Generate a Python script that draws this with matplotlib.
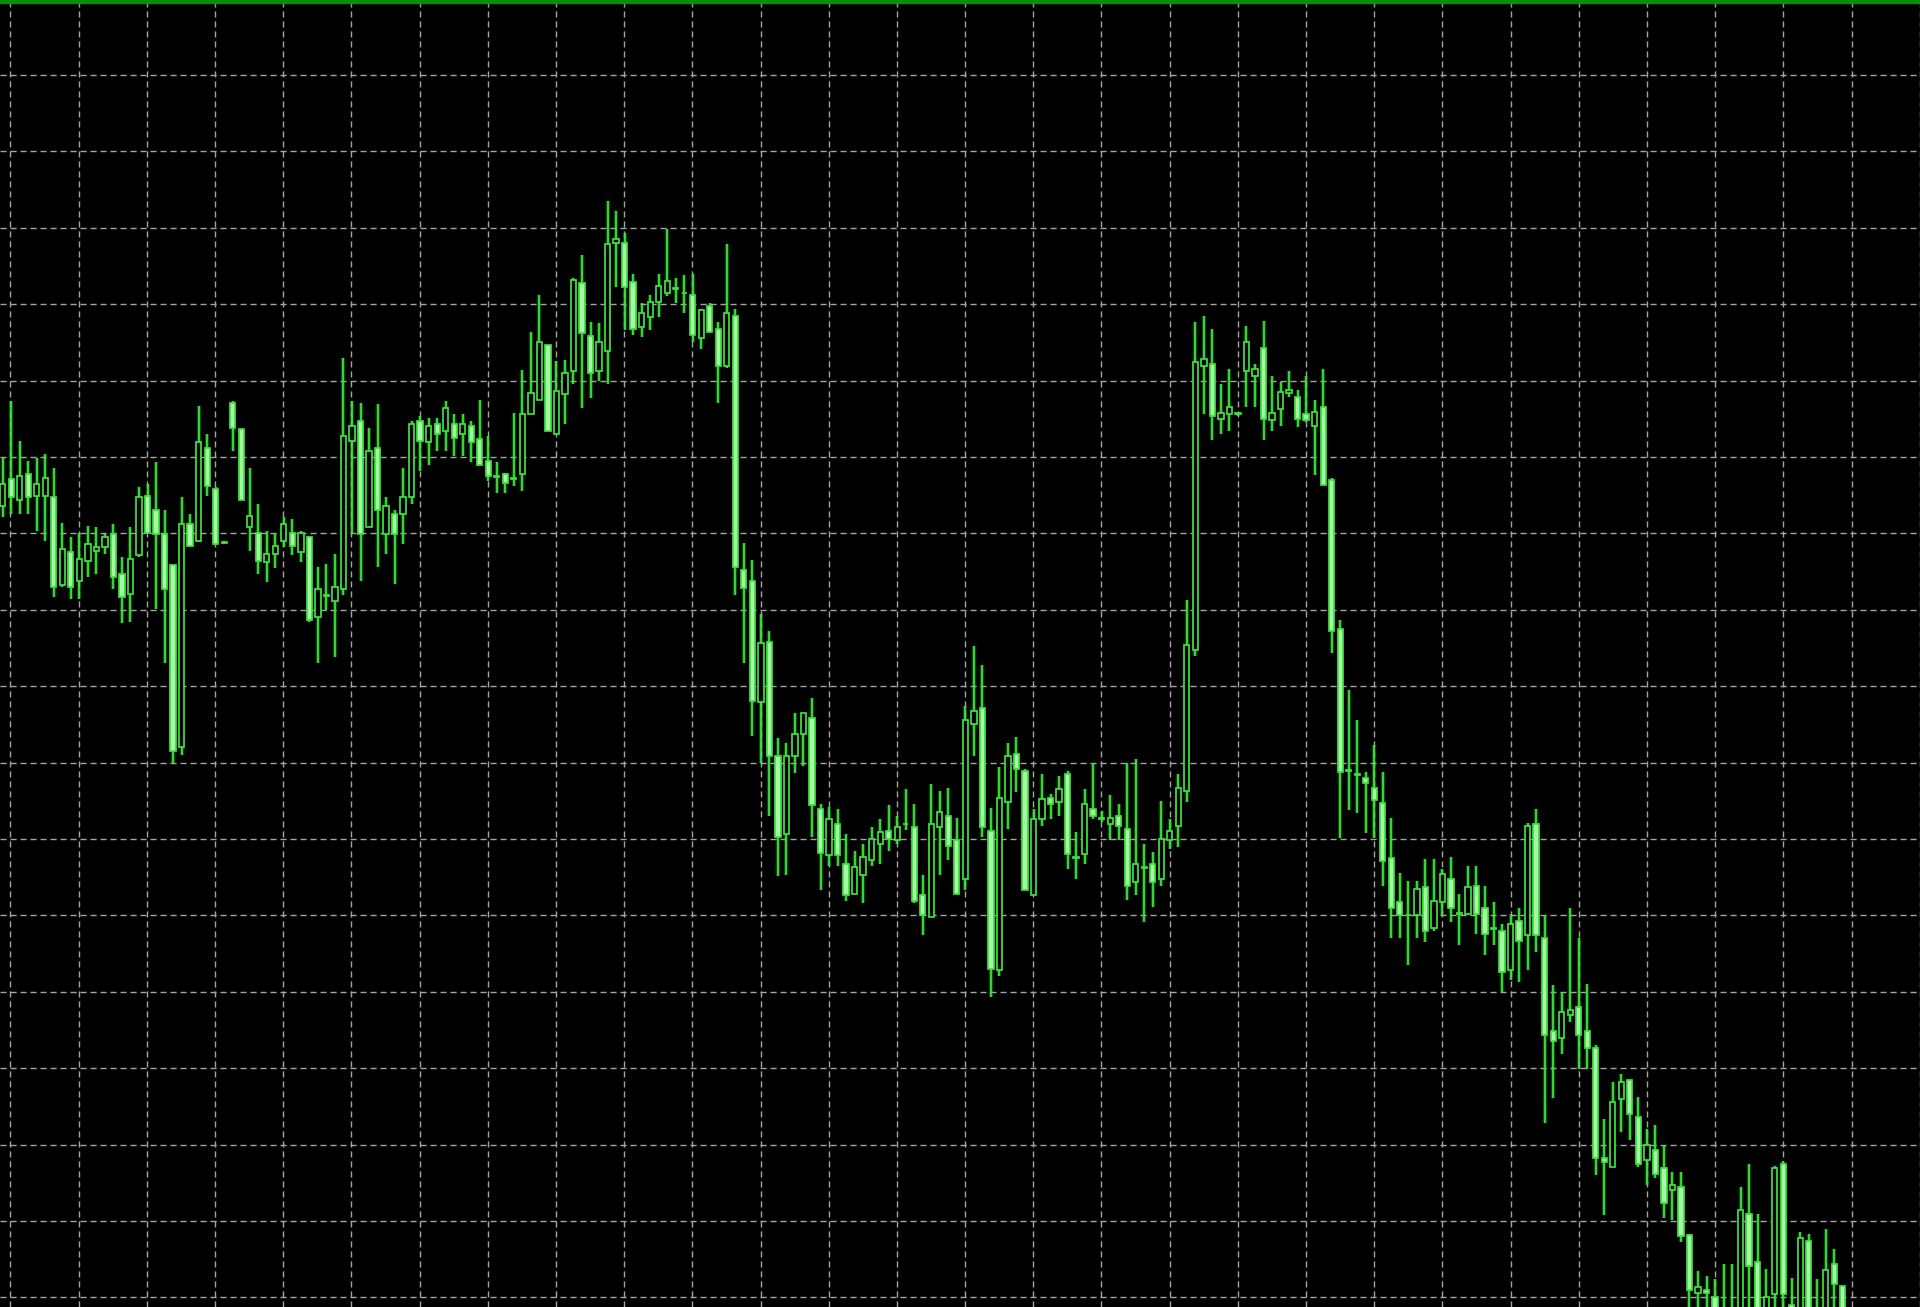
import matplotlib
matplotlib.use("Agg")
import matplotlib.pyplot as plt
import matplotlib.patheffects as pe
from matplotlib.patches import Rectangle
import numpy as np

# OHLC per bar, price units (one grid step = 10)
opens = [
    103.6, 107.1, 104.3, 107.7, 104.9, 104.9, 104.7, 93.2, 97.5, 93.8,
    96.4, 97.7, 98.2, 99.9, 94.7, 92.1, 97.1, 104.9, 103.0, 99.9,
    95.8, 72.0, 101.2, 99.0, 111.2, 105.8, 98.9, 117.1, 113.6, 100.8,
    100.1, 96.2, 97.3, 99.0, 100.1, 97.5, 99.5, 89.0, 91.9, 91.2,
    92.7, 112.1, 114.7, 100.8, 111.2, 99.9, 102.5, 102.5, 104.7, 114.7,
    111.9, 114.3, 113.4, 114.3, 113.0, 114.0, 112.3, 109.5, 107.5, 107.7,
    107.1, 107.7, 115.6, 117.5, 124.7, 113.0, 118.2, 121.2, 132.7, 125.8,
    121.2, 123.9, 138.0, 138.0, 132.9, 127.0, 128.3, 130.3, 131.4, 132.1,
    131.5, 131.2, 125.5, 129.7, 126.8, 121.9, 128.5, 95.2, 93.7, 77.9,
    85.8, 70.9, 60.7, 70.9, 73.7, 75.8, 63.9, 57.9, 61.9, 56.7,
    52.8, 55.3, 57.2, 59.3, 61.1, 59.8, 61.9, 61.6, 52.6, 49.8,
    61.6, 63.0, 59.8, 54.7, 75.1, 77.2, 61.1, 42.8, 64.8, 71.1,
    68.9, 52.6, 62.6, 65.4, 64.8, 68.5, 57.6, 58.0, 63.9, 62.7,
    62.0, 63.0, 61.3, 54.4, 56.3, 56.7, 54.8, 59.8, 61.7, 66.3,
    84.7, 121.9, 122.1, 115.0, 115.6, 115.6, 121.3, 120.6, 124.3, 114.8,
    116.3, 118.3, 117.8, 115.6, 114.1, 116.5, 107.0, 87.5, 68.9, 68.5,
    68.0, 66.7, 64.7, 57.5, 51.7, 50.1, 50.0, 53.7, 48.3, 51.7,
    54.8, 50.3, 50.2, 53.9, 50.9, 48.3, 48.0, 42.8, 49.3, 47.4,
    61.9, 47.1, 34.8, 33.9, 36.9, 38.0, 34.8, 32.7, 18.2, 17.1,
    26.0, 28.4, 23.6, 18.0, 19.3, 16.9, 14.1, 14.5, 8.1, 0.6,
    1.0, 0.1, -2.0, -3.0, -3.0, 10.9, 4.6, -2.0, 0.4, 17.4,
    -1.0, -2.0, 7.4, -2.0, -2.0, 4.4, 1.5,
]
highs = [
    109.9, 117.3, 112.1, 109.5, 109.9, 110.4, 108.6, 101.4, 99.5, 100.1,
    101.0, 100.8, 99.9, 101.2, 96.9, 100.8, 106.0, 106.4, 109.3, 103.0,
    96.0, 104.7, 102.5, 116.7, 113.0, 106.0, 99.0, 117.3, 113.6, 108.6,
    103.8, 100.3, 100.1, 102.1, 101.9, 100.3, 99.7, 95.6, 96.0, 97.3,
    123.0, 117.3, 117.1, 113.8, 116.9, 104.7, 103.0, 108.6, 114.7, 115.4,
    115.1, 115.1, 117.3, 115.6, 115.6, 114.7, 117.5, 112.7, 109.3, 107.9,
    115.8, 121.4, 126.4, 131.2, 124.7, 122.5, 122.7, 133.4, 136.4, 127.7,
    127.5, 143.5, 142.2, 139.3, 134.0, 130.1, 131.2, 134.0, 139.8, 133.4,
    133.8, 134.0, 129.4, 130.1, 127.7, 137.8, 129.4, 98.7, 96.5, 89.5,
    87.2, 73.2, 72.5, 76.5, 76.5, 78.4, 64.6, 64.2, 63.9, 60.7,
    58.4, 59.3, 61.6, 62.6, 64.4, 63.0, 66.5, 64.6, 55.3, 67.2,
    66.3, 66.7, 62.8, 77.4, 85.3, 82.8, 64.0, 69.4, 72.6, 73.3,
    69.1, 63.9, 68.5, 65.9, 68.3, 68.9, 60.9, 66.5, 70.0, 63.7,
    65.7, 64.6, 70.0, 70.4, 59.4, 58.3, 65.0, 62.6, 68.5, 91.3,
    127.6, 128.4, 126.7, 119.5, 121.5, 115.8, 127.1, 122.2, 127.8, 120.6,
    119.8, 121.3, 118.7, 120.6, 117.4, 121.5, 107.2, 88.6, 79.5, 75.6,
    68.8, 72.3, 68.8, 62.7, 55.6, 54.5, 54.5, 57.4, 57.4, 56.1,
    57.6, 52.8, 56.5, 56.5, 53.9, 51.7, 48.9, 50.2, 50.9, 62.1,
    63.9, 50.0, 40.9, 40.0, 50.9, 47.1, 41.0, 33.0, 23.4, 28.2,
    29.3, 28.4, 26.2, 22.1, 22.5, 19.9, 16.4, 16.4, 8.3, 3.4,
    2.8, 2.4, 4.4, 4.4, 14.4, 17.4, 10.9, 3.7, 17.2, 17.8,
    2.6, 8.5, 8.3, 2.4, 8.9, 6.3, 1.5,
]
lows = [
    102.1, 102.5, 102.5, 102.5, 100.3, 99.0, 91.7, 93.0, 91.4, 91.4,
    94.3, 94.7, 97.3, 92.7, 88.2, 88.4, 96.9, 100.1, 90.1, 83.0,
    69.8, 71.0, 98.2, 98.8, 104.9, 98.6, 98.6, 110.8, 104.3, 97.7,
    94.7, 93.6, 95.4, 98.2, 97.1, 96.2, 88.4, 83.0, 89.9, 83.8,
    91.9, 100.1, 93.8, 100.8, 95.6, 97.3, 93.4, 98.6, 103.8, 108.2,
    109.0, 110.8, 110.8, 110.1, 110.1, 109.3, 109.0, 106.9, 105.3, 105.3,
    106.2, 105.6, 115.6, 117.5, 113.4, 113.0, 114.3, 119.5, 116.4, 117.7,
    119.9, 119.5, 132.3, 126.6, 125.9, 125.7, 126.6, 128.3, 131.0, 130.1,
    128.8, 125.0, 124.1, 126.3, 117.1, 121.7, 91.9, 83.0, 73.5, 70.0,
    63.0, 55.2, 55.3, 68.6, 69.5, 60.2, 53.3, 56.5, 56.5, 51.9,
    52.8, 51.6, 56.5, 56.7, 58.4, 59.3, 61.2, 51.6, 47.4, 49.8,
    55.3, 57.2, 52.8, 53.3, 70.9, 60.2, 39.3, 42.0, 61.3, 66.1,
    53.3, 52.6, 61.7, 62.6, 63.0, 56.1, 54.8, 56.7, 62.6, 62.2,
    59.8, 59.8, 52.0, 52.6, 49.1, 51.1, 53.9, 58.7, 58.9, 64.8,
    83.9, 115.6, 112.2, 113.0, 113.4, 115.4, 116.5, 116.5, 112.2, 113.4,
    114.1, 117.8, 113.9, 114.6, 107.6, 106.3, 84.3, 60.1, 63.8, 63.4,
    60.8, 60.1, 53.8, 47.1, 47.1, 43.5, 47.1, 46.5, 48.0, 50.0,
    49.1, 46.1, 50.0, 47.6, 44.8, 46.1, 40.0, 41.5, 41.3, 42.8,
    45.2, 22.8, 26.1, 31.9, 36.1, 29.9, 29.9, 16.0, 10.8, 17.1,
    21.7, 20.6, 17.1, 14.7, 15.6, 10.4, 10.1, 7.3, -2.5, -2.0,
    -2.0, -3.0, -6.0, -5.0, -5.0, -2.0, -4.0, -3.0, -2.0, -2.0,
    -4.0, -4.0, -3.0, -4.0, -4.0, -1.5, -3.0,
]
closes = [
    106.4, 104.7, 107.5, 104.7, 106.4, 107.3, 93.0, 98.0, 93.0, 96.7,
    98.6, 98.2, 99.5, 94.3, 91.7, 96.7, 104.7, 100.1, 99.9, 92.7,
    71.5, 101.2, 98.4, 111.9, 106.2, 98.6, 98.7, 113.8, 104.3, 102.3,
    96.4, 97.3, 98.4, 101.2, 98.4, 100.0, 88.6, 92.7, 91.8, 93.0,
    112.7, 114.1, 99.9, 110.8, 103.0, 103.6, 99.9, 104.7, 114.3, 112.1,
    114.0, 113.0, 116.4, 112.5, 114.3, 111.9, 109.0, 107.5, 107.4, 106.6,
    107.2, 115.6, 118.4, 125.1, 113.4, 118.6, 121.0, 133.2, 126.2, 121.0,
    125.1, 137.8, 138.5, 132.3, 126.8, 128.8, 130.3, 132.4, 133.0, 132.0,
    131.4, 125.9, 129.2, 126.3, 121.9, 128.8, 95.6, 92.8, 78.1, 85.6,
    70.9, 60.2, 70.9, 73.7, 76.5, 64.4, 58.1, 62.6, 57.9, 52.6,
    56.3, 57.7, 60.0, 60.9, 60.0, 61.6, 62.0, 51.9, 50.0, 61.9,
    63.5, 59.1, 52.8, 75.6, 76.7, 61.6, 43.0, 65.4, 70.9, 69.1,
    53.3, 62.6, 65.2, 64.6, 66.5, 58.0, 57.5, 64.6, 63.0, 62.6,
    62.8, 61.7, 53.9, 56.7, 56.2, 54.4, 60.0, 61.1, 66.7, 85.4,
    122.4, 122.8, 115.4, 115.8, 116.5, 115.7, 125.0, 121.5, 115.0, 115.8,
    118.5, 118.7, 115.0, 114.8, 115.9, 106.3, 87.2, 68.8, 69.0, 68.4,
    67.3, 65.1, 57.1, 51.0, 50.0, 50.0, 53.5, 48.0, 51.9, 55.4,
    50.9, 50.2, 53.7, 50.2, 47.6, 48.2, 42.6, 48.9, 46.7, 61.7,
    47.4, 34.3, 33.5, 37.4, 37.6, 34.3, 32.6, 18.2, 17.7, 25.6,
    28.2, 24.0, 17.5, 19.9, 16.2, 12.3, 14.7, 8.0, 0.9, 1.4,
    0.6, -1.5, -4.0, -2.0, 11.5, 4.1, -2.0, 0.0, 16.9, 0.4,
    -2.0, 7.8, -2.0, -1.5, 3.6, 1.7, -2.0,
]

o = np.array(opens)
h = np.array(highs)
l = np.array(lows)
c = np.array(closes)
x = np.arange(len(o))

line_col = "#3ee23e"
bear_fill = "#a6f7a6"
grid_col = "#a4a4a4"

fig = plt.figure(figsize=(19.2, 13.07), dpi=100, facecolor="black")
ax = fig.add_axes([0, 0, 1, 1])
ax.set_facecolor("black")

# grid: a vertical line every 8 bars, a horizontal line every 10 price units
ax.set_xticks(0.9 + 8.005 * np.arange(29))
ax.set_yticks(np.arange(0, 170, 10))
ax.tick_params(length=0, labelbottom=False, labelleft=False)
ax.grid(True, color=grid_col, linewidth=1.0, linestyle=(0, (4.4, 2.8)))
ax.set_axisbelow(True)
for s in ax.spines.values():
    s.set_visible(False)

glow = [pe.withStroke(linewidth=3.2, foreground=line_col, alpha=0.3)]

ax.vlines(x, l, h, color=line_col, linewidth=1.3, zorder=2, path_effects=glow)

bull = c >= o
body_lo = np.minimum(o, c)
body_h = np.abs(c - o)
ax.bar(x[bull], body_h[bull], bottom=body_lo[bull], width=0.62,
       facecolor="black", edgecolor=line_col, linewidth=1.25, zorder=3)
ax.bar(x[~bull], body_h[~bull], bottom=body_lo[~bull], width=0.62,
       facecolor=bear_fill, edgecolor=line_col, linewidth=1.25, zorder=3)

ax.set_xlim(-0.317, 225.06)
ax.set_ylim(-1.26, 169.8)

# green frame line along the top edge
fig.patches.append(Rectangle((0, 1 - 2.7 / 1307), 1, 2.7 / 1307,
                             transform=fig.transFigure, color="#0b8c0b", zorder=10))

fig.savefig("out.png", dpi=100, facecolor="black")
